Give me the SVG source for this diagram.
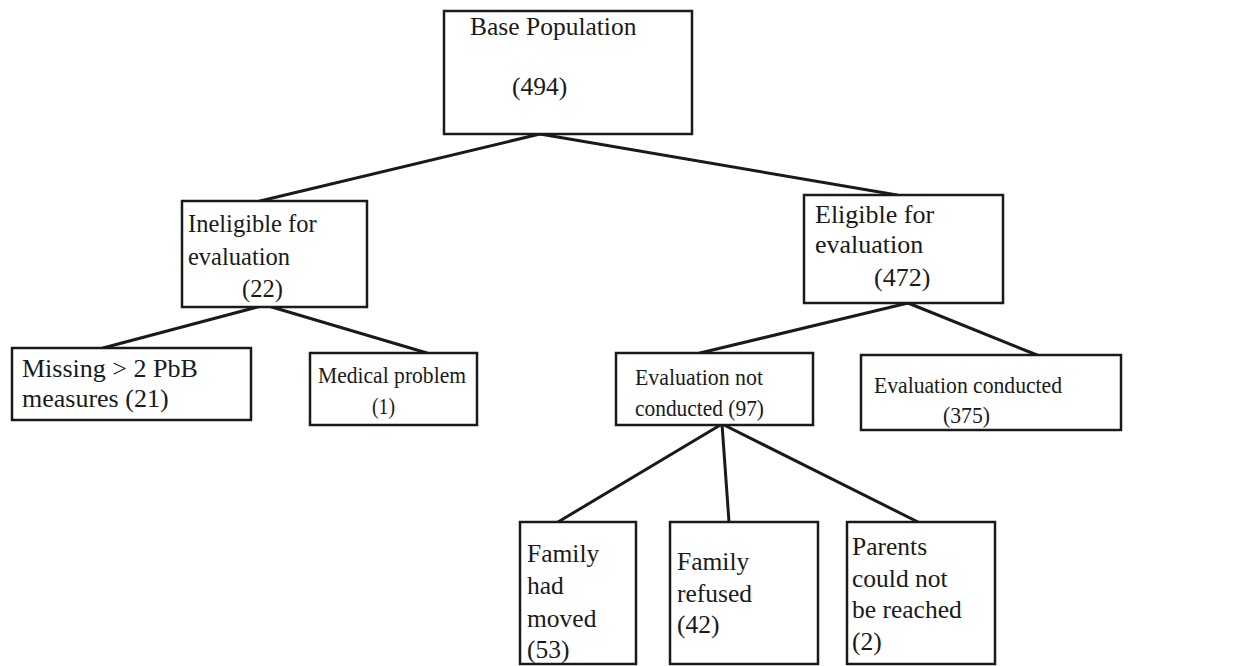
<svg xmlns="http://www.w3.org/2000/svg" width="1234" height="666" viewBox="0 0 1234 666">
<style>
.box{fill:#fff;stroke:#1a1a1a;stroke-width:2.5}
.ln{stroke:#1a1a1a;stroke-width:3;fill:none;stroke-linecap:round}
text{font-family:"Liberation Serif","Times New Roman",serif;fill:#1a1a1a}
</style>
<rect width="1234" height="666" fill="#fff"/>
<g id="connectors">
<line class="ln" x1="540" y1="134" x2="260" y2="201"/>
<line class="ln" x1="540" y1="134" x2="897" y2="195"/>
<line class="ln" x1="265" y1="305" x2="103" y2="348"/>
<line class="ln" x1="265" y1="305" x2="427" y2="353"/>
<line class="ln" x1="908" y1="303" x2="700" y2="353"/>
<line class="ln" x1="908" y1="303" x2="1037" y2="355"/>
<line class="ln" x1="722" y1="424" x2="558" y2="522"/>
<line class="ln" x1="722" y1="424" x2="729" y2="522"/>
<line class="ln" x1="722" y1="424" x2="922" y2="524"/>
</g>
<g id="base">
<rect class="box" x="444" y="11" width="248" height="123"/>
<text x="470" y="35" font-size="25.5">Base Population</text>
<text x="512" y="95" font-size="25.5">(494)</text>
</g>
<g id="ineligible">
<rect class="box" x="182" y="201" width="185" height="106"/>
<text x="188" y="232" font-size="24.5">Ineligible for</text>
<text x="188" y="265" font-size="24.5">evaluation</text>
<text x="242" y="297" font-size="24.5">(22)</text>
</g>
<g id="eligible">
<rect class="box" x="804" y="195" width="199" height="108"/>
<text x="815" y="223" font-size="26">Eligible for</text>
<text x="815" y="253" font-size="26">evaluation</text>
<text x="874" y="286" font-size="26">(472)</text>
</g>
<g id="missing">
<rect class="box" x="12" y="348" width="239" height="72"/>
<text x="22" y="377" font-size="26">Missing &gt; 2 PbB</text>
<text x="22" y="407" font-size="26">measures (21)</text>
</g>
<g id="medical">
<rect class="box" x="310" y="353" width="167" height="72"/>
<text x="318" y="383" font-size="23.5" textLength="148" lengthAdjust="spacingAndGlyphs">Medical problem</text>
<text x="372" y="414" font-size="23.5" textLength="23" lengthAdjust="spacingAndGlyphs">(1)</text>
</g>
<g id="eval-not">
<rect class="box" x="616" y="353" width="197" height="72"/>
<text x="635" y="385" font-size="23.5" textLength="128" lengthAdjust="spacingAndGlyphs">Evaluation not</text>
<text x="635" y="416" font-size="23.5" textLength="129" lengthAdjust="spacingAndGlyphs">conducted (97)</text>
</g>
<g id="eval-conducted">
<rect class="box" x="861" y="355" width="260" height="75"/>
<text x="874" y="393" font-size="23.5" textLength="188" lengthAdjust="spacingAndGlyphs">Evaluation conducted</text>
<text x="943" y="423" font-size="23.5" textLength="47" lengthAdjust="spacingAndGlyphs">(375)</text>
</g>
<g id="moved">
<rect class="box" x="520" y="522" width="116" height="142"/>
<text x="527" y="562" font-size="25.5">Family</text>
<text x="527" y="594" font-size="25.5">had</text>
<text x="527" y="627" font-size="25.5">moved</text>
<text x="527" y="658" font-size="25.5">(53)</text>
</g>
<g id="refused">
<rect class="box" x="670" y="522" width="148" height="142"/>
<text x="677" y="570" font-size="25.5">Family</text>
<text x="677" y="602" font-size="25.5">refused</text>
<text x="677" y="633" font-size="25.5">(42)</text>
</g>
<g id="parents">
<rect class="box" x="847" y="522" width="148" height="142"/>
<text x="852" y="555" font-size="25.5">Parents</text>
<text x="852" y="587" font-size="25.5">could not</text>
<text x="852" y="618" font-size="25.5">be reached</text>
<text x="852" y="650" font-size="25.5">(2)</text>
</g>
</svg>
